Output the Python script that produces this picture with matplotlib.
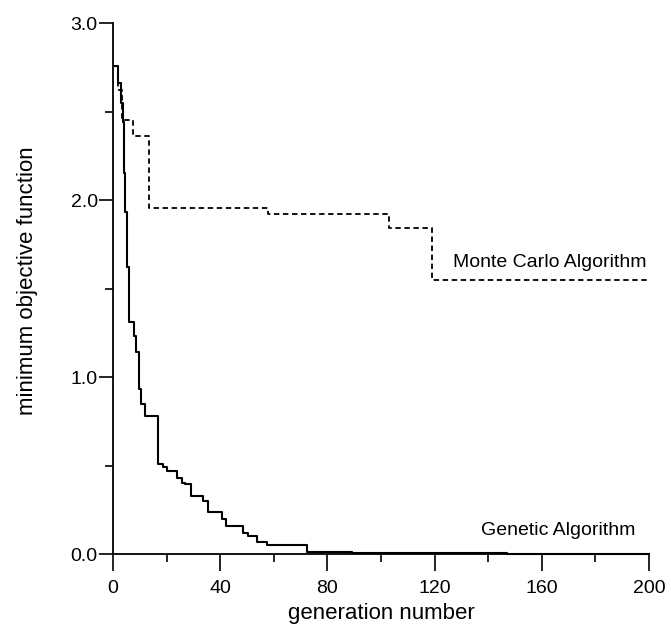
import matplotlib
matplotlib.use("Agg")
import matplotlib.pyplot as plt
from matplotlib.ticker import MultipleLocator

# values
ga_gen = [0.9, 2.0, 3.0, 3.7, 4.1, 4.6, 5.1, 6.1, 7.8, 8.6, 9.8, 10.6, 11.9,
          16.9, 18.8, 20.0, 23.8, 25.6, 26.9, 29.0, 33.7, 35.6, 38.7, 40.6,
          42.2, 48.6, 50.5, 53.6, 57.3, 60.4, 72.4, 89.0, 101.5, 147.0, 200.0]
ga_val = [2.755, 2.66, 2.55, 2.44, 2.15, 1.93, 1.62, 1.31, 1.23, 1.14, 0.93,
          0.85, 0.78, 0.51, 0.49, 0.47, 0.43, 0.40, 0.395, 0.33, 0.30, 0.24,
          0.24, 0.20, 0.156, 0.12, 0.10, 0.07, 0.053, 0.050, 0.013, 0.008,
          0.004, 0.0, 0.0]

mc_gen = [0.9, 2.0, 3.4, 7.5, 13.4, 57.8, 103.0, 119.1, 200.0]
mc_val = [2.755, 2.62, 2.45, 2.36, 1.955, 1.92, 1.84, 1.55, 1.55]

labels = ["Monte Carlo Algorithm", "Genetic Algorithm"]

plt.rcParams['font.family'] = ['Liberation Sans', 'DejaVu Sans']

fig = plt.figure(figsize=(6.71, 6.32), dpi=100)
ax = fig.add_axes([0.1684, 0.1234, 0.7988, 0.8402])

ax.step(ga_gen, ga_val, where='post', color='black', lw=1.5, clip_on=False)
ax.step(mc_gen, mc_val, where='post', color='black', lw=1.3,
        linestyle=(0, (3, 2)))

ax.text(199, 1.624, labels[0], ha='right', va='baseline', fontsize=14)
ax.text(194.8, 0.109, labels[1], ha='right', va='baseline', fontsize=14)

ax.set_xlim(0, 200)
ax.set_ylim(0, 3)
ax.xaxis.set_major_locator(MultipleLocator(40))
ax.xaxis.set_minor_locator(MultipleLocator(20))
ax.yaxis.set_major_locator(MultipleLocator(1))
ax.yaxis.set_minor_locator(MultipleLocator(0.5))
ax.yaxis.set_major_formatter(plt.FormatStrFormatter('%.1f'))
ax.tick_params(axis='x', which='major', length=12, width=1.2, labelsize=14,
               direction='out', pad=7)
ax.tick_params(axis='y', which='major', length=10, width=1.2, labelsize=14,
               direction='out', pad=1)
ax.tick_params(which='minor', length=6, width=1.2, direction='out')

for side in ['top', 'right']:
    ax.spines[side].set_visible(False)
for side in ['left', 'bottom']:
    ax.spines[side].set_linewidth(1.3)

ax.set_xlabel('generation number', fontsize=16, labelpad=4)
ax.set_ylabel('minimum objective function', fontsize=16)
ax.yaxis.set_label_coords(-0.14, 0.515)

fig.savefig('out.png', dpi=100)
